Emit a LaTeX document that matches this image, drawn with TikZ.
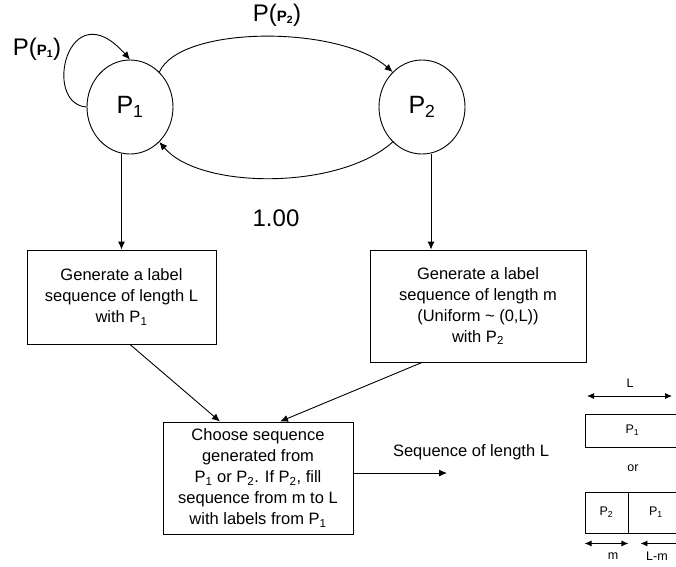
\documentclass[tikz,border=0pt]{standalone}
\usepackage{fontspec}
\setmainfont{Liberation Sans}
\usetikzlibrary{arrows.meta,shapes.geometric}

\newcommand{\boldP}[1]{{\bfseries\fontsize{15}{15}\selectfont P\textsubscript{#1}}}

\begin{document}
\begin{tikzpicture}[x=1pt,y=-1pt,line width=0.9pt,
    state/.style={draw,ellipse,minimum width=86pt,minimum height=94pt,inner sep=0pt,font=\fontsize{25}{25}\selectfont},
    stepbox/.style={draw,align=center,inner sep=0pt,font=\fontsize{16.5}{21}\selectfont},
    seg/.style={draw,inner sep=0pt,font=\fontsize{12.5}{12.5}\selectfont},
    big/.style={font=\fontsize{24}{24}\selectfont},
    small/.style={font=\fontsize{12.5}{12.5}\selectfont},
    arr/.style={-{Latex[length=8pt,width=7pt]}},
    dim/.style={{Latex[length=7pt,width=6pt]}-{Latex[length=7pt,width=6pt]}}]
    \useasboundingbox (0,0) rectangle (676,566);
    \clip (0,0) rectangle (676,566);

    \node[state] (p1) at (130,107) {P\textsubscript{1}};
    \node[state] (p2) at (422,107) {P\textsubscript{2}};

    \node[big] (lp1) at (37,49) {P(\boldP{1})};
    \node[big] (lp2) at (277,15) {P(\boldP{2})};
    \node[big] (lone) at (276,218) {1.00};

    \draw[arr] (p1.west) .. controls +(-45,-3) and +(-62,-70) .. (p1.north);
    \draw[arr] (p1.50) .. controls +(21,-47) and +(-53,-47) .. (p2.130);
    \draw[arr] (p2.230) .. controls +(-53,48) and +(41,48) .. (p1.-50);

    \node[stepbox,minimum width=189pt,minimum height=94pt] (box1) at (121.5,297)
        {Generate a label\\sequence of length L\\with P\textsubscript{1}};
    \node[stepbox,minimum width=216pt,minimum height=112pt] (box2) at (478,306)
        {Generate a label\\sequence of length m\\(Uniform \textasciitilde{} (0,L))\\with P\textsubscript{2}};
    \node[stepbox,minimum width=190pt,minimum height=112pt] (box3) at (258,478)
        {Choose sequence\\generated from\\P\textsubscript{1} or P\textsubscript{2}. If P\textsubscript{2}, fill\\sequence from m to L\\with labels from P\textsubscript{1}};

    \draw[arr] (box1.north |- p1.south) -- (box1.north);
    \draw[arr] ([xshift=9pt]p2.south) -- ([xshift=-47pt]box2.north);
    \draw[arr] ([xshift=8.5pt]box1.south) -- ([xshift=-38pt]box3.north);
    \draw[arr] ([xshift=-56pt]box2.south) -- ([xshift=22pt]box3.north);

    \coordinate (out) at (447,473);
    \draw[arr] (box3.east |- out) -- (out);
    \node[font=\fontsize{16.5}{21}\selectfont] (seqtxt) at (471,452) {Sequence of length L};

    \node[small] (ltxt) at (630,383) {L};
    \coordinate (la) at (587,396);
    \coordinate (lb) at (672,396);
    \draw[dim] (la) -- (lb);
    \node[seg,minimum width=95pt,minimum height=33pt] (seg1) at (632.5,430.5) {P\textsubscript{1}};
    \node[small] (ortxt) at (633,468) {or};
    \node[seg,minimum width=43pt,minimum height=41pt] (seg2) at (606.5,512.5) {P\textsubscript{2}};
    \node[seg,minimum width=54pt,minimum height=41pt,anchor=west] (seg3) at (seg2.east) {P\textsubscript{1}};
    \draw[dim] ([yshift=-10pt]seg2.south west) -- ([yshift=-10pt]seg2.south east);
    \draw[dim] ([xshift=12pt,yshift=-10pt]seg3.south west) -- ([yshift=-10pt]seg3.south east);
    \node[small] (mtxt) at (613,556) {m};
    \node[small] (lmtxt) at (657,556) {L-m};
\end{tikzpicture}
\end{document}
